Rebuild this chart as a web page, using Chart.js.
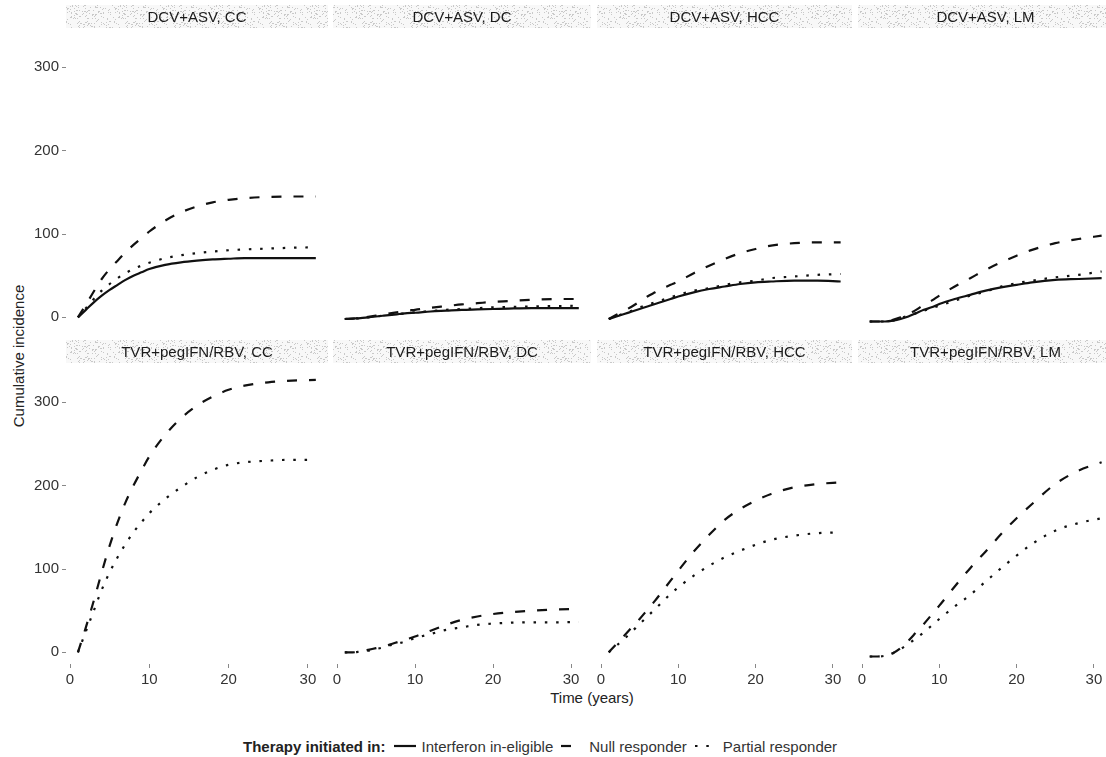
<!DOCTYPE html>
<html>
<head>
<meta charset="utf-8">
<title>Cumulative incidence</title>
<script src="https://cdn.jsdelivr.net/npm/chart.js@4.4.1/dist/chart.umd.min.js"></script>
<style>
  body { margin: 0; background: #fff; font-family: "Liberation Sans", Arial, sans-serif; color: #222; }
  #page { position: relative; width: 1106px; height: 757px; overflow: hidden; }
  #page canvas { position: absolute; }
  .lbl { position: absolute; font-size: 15px; white-space: nowrap; }
  #ytitle { left: 18px; top: 356px; transform: translate(-50%, -50%) rotate(-90deg); }
  #xtitle { left: 592px; top: 697px; transform: translate(-50%, -50%); }
  #legend { left: 243px; top: 737px; height: 18px; display: flex; align-items: center; color: #333; }
  #legend b { color: #222; }
  #legend svg { margin: 0 6px 0 8px; }
</style>
</head>
<body>
<div id="page">
  <div class="lbl" id="ytitle">Cumulative incidence</div>
  <div class="lbl" id="xtitle">Time (years)</div>
  <div class="lbl" id="legend"></div>
</div>
<script>
// facets
const treatments = ['DCV+ASV', 'TVR+pegIFN/RBV'];
const outcomes = ['CC', 'DC', 'HCC', 'LM'];
const seriesNames = ['Interferon in-eligible', 'Null responder', 'Partial responder'];
const xTicks = [0, 10, 20, 30];
const yTicks = [0, 100, 200, 300];

// time points (years)
const years = [1, 2, 3, 4, 5, 6, 7, 8, 9, 10, 12, 14, 16, 18, 20, 22, 25, 28, 31];

// DCV+ASV
const dcvCC_inelig  = [0, 9, 18, 26, 33, 39, 45, 50, 54, 58, 63, 66, 68, 69.5, 70.3, 71, 71, 71, 71];
const dcvCC_null    = [0, 15, 31, 46, 58, 68, 78, 87, 95, 103, 116, 126, 133, 138, 141, 143, 144.5, 145, 145];
const dcvCC_partial = [0, 11, 22, 32, 40, 47, 53, 58, 62, 65.5, 71, 74.5, 77, 79, 80.5, 81.5, 82.5, 83.5, 84];

const dcvDC_inelig  = [-2, -1.5, -1, 0, 1, 2, 3, 4, 5, 5.5, 7, 8, 9, 9.5, 10, 10.5, 11, 11, 11];
const dcvDC_null    = [-2, -1.5, -1, 0.5, 2, 3.5, 5, 6.5, 8, 9, 11.5, 13.5, 15.5, 17, 18.5, 19.5, 21, 22, 22];
const dcvDC_partial = [-2, -1.5, -1, 0, 1, 2, 3, 4, 5, 6, 7.5, 9, 10, 11, 12, 12.5, 13, 13.5, 14];

const dcvHCC_inelig  = [-2, 1, 4, 7, 10, 13, 16, 19, 22, 25, 30, 34, 37, 40, 42, 43, 44, 44, 43];
const dcvHCC_null    = [-2, 3, 8, 13, 19, 25, 30, 35, 39, 43, 53, 62, 70, 77, 82, 86, 89, 90, 90];
const dcvHCC_partial = [-2, 1, 5, 8, 12, 15, 18, 21, 24, 27, 32, 35, 39, 42, 44, 47, 49, 51, 52];

const dcvLM_inelig  = [-5, -5, -5, -4, -2, 1, 5, 9, 12, 16, 22, 27, 32, 36, 39, 42, 45, 46, 47];
const dcvLM_null    = [-5, -5, -5, -3, 0, 4, 9, 15, 20, 26, 37, 47, 57, 66, 74, 81, 89, 94, 98];
const dcvLM_partial = [-5, -5, -5, -4, -1, 2, 5, 8, 11, 14, 20, 26, 31, 37, 41, 44, 48, 51, 55];

// TVR+pegIFN/RBV (no interferon in-eligible arm)
const tvrCC_null    = [0, 30, 62, 96, 128, 156, 180, 200, 218, 235, 261, 281, 296, 307, 315, 320, 324, 326, 327];
const tvrCC_partial = [0, 25, 50, 75, 96, 114, 130, 144, 156, 167, 184, 198, 210, 219, 225, 228, 230, 231, 231];

const tvrDC_null    = [0, 0, 1, 3, 5, 7, 10, 13, 16, 19, 26, 33, 39, 43, 46, 48, 50, 51.5, 52];
const tvrDC_partial = [0, 0, 1, 2, 4, 6, 9, 11, 14, 17, 22, 27, 30, 33, 34.5, 35.5, 36, 36, 36.5];

const tvrHCC_null    = [0, 10, 20, 30, 40, 51, 62, 74, 86, 98, 121, 141, 159, 172, 182, 190, 198, 202, 204];
const tvrHCC_partial = [0, 8, 16, 25, 34, 43, 52, 61, 70, 78, 92, 104, 114, 122, 129, 135, 140, 143, 144];

const tvrLM_null    = [-5, -5, -4, -1, 5, 14, 24, 34, 45, 56, 79, 101, 121, 142, 161, 178, 202, 218, 228];
const tvrLM_partial = [-5, -5, -4, -1, 4, 10, 17, 24, 32, 40, 55, 69, 85, 101, 116, 130, 146, 155, 161];

const grid = [
  [[dcvCC_inelig, dcvCC_null, dcvCC_partial], [dcvDC_inelig, dcvDC_null, dcvDC_partial],
   [dcvHCC_inelig, dcvHCC_null, dcvHCC_partial], [dcvLM_inelig, dcvLM_null, dcvLM_partial]],
  [[null, tvrCC_null, tvrCC_partial], [null, tvrDC_null, tvrDC_partial],
   [null, tvrHCC_null, tvrHCC_partial], [null, tvrLM_null, tvrLM_partial]]
];

// line look
const dashes = [[], [10, 12], [2.5, 8.8]];
const lineColor = '#111';
const lineWidth = 2.2;

// layout (pixels)
const colLeft = [66, 333, 597, 858];
const colWidth = [262, 258, 255, 255];
const colZero = [70, 337, 601, 862];
const colPerYear = [7.93, 7.8, 7.73, 7.73];
const rowTop = [5, 340];
const stripH = 23;
const panelH = 300;
const yAxisW = 66;
const xAxisH = 30;
const yMin = -14, yMax = 346;

Chart.defaults.font.family = '"Liberation Sans", Arial, sans-serif';
Chart.defaults.font.size = 15;
Chart.defaults.color = '#333';

// speckled grey strip like the scanned original
function makeSpeckle() {
  const c = document.createElement('canvas');
  c.width = 48; c.height = stripH;
  const g = c.getContext('2d');
  g.fillStyle = '#f8f8f8';
  g.fillRect(0, 0, c.width, c.height);
  g.fillStyle = '#c9c9c9';
  for (let y = 0; y < c.height; y++) {
    for (let x = 0; x < c.width; x++) {
      const h = Math.abs(Math.sin(x * 12.9898 + y * 78.233) * 43758.5453) % 1;
      if (h > 0.86) g.fillRect(x, y, 1, 1);
    }
  }
  return g.createPattern(c, 'repeat');
}

const stripPlugin = {
  id: 'strip',
  beforeDraw(chart, args, opts) {
    const {ctx, chartArea} = chart;
    const top = chartArea.top - stripH - 1;
    ctx.save();
    ctx.fillStyle = makeSpeckle();
    ctx.fillRect(chartArea.left, top, chartArea.right - chartArea.left, stripH);
    ctx.fillStyle = '#1a1a1a';
    ctx.font = '15px "Liberation Sans", Arial, sans-serif';
    ctx.textAlign = 'center';
    ctx.textBaseline = 'middle';
    ctx.fillText(opts.text, (chartArea.left + chartArea.right) / 2, top + stripH / 2 + 1);
    ctx.restore();
  }
};

const page = document.getElementById('page');

for (let r = 0; r < 2; r++) {
  for (let c = 0; c < 4; c++) {
    const showY = c === 0;
    const showX = r === 1;
    const canvas = document.createElement('canvas');
    const left = showY ? colLeft[c] - yAxisW : colLeft[c];
    const width = colWidth[c] + (showY ? yAxisW : 0);
    const height = stripH + 1 + panelH + (showX ? xAxisH : 0);
    canvas.width = width;
    canvas.height = height;
    canvas.style.left = left + 'px';
    canvas.style.top = rowTop[r] + 'px';
    page.appendChild(canvas);

    const xMin = (colLeft[c] - colZero[c]) / colPerYear[c];
    const xMax = (colLeft[c] + colWidth[c] - colZero[c]) / colPerYear[c];

    const datasets = [];
    grid[r][c].forEach((vals, k) => {
      if (!vals) return;
      datasets.push({
        label: seriesNames[k],
        data: years.map((x, i) => ({x: x, y: vals[i]})),
        borderColor: lineColor,
        borderWidth: lineWidth,
        borderDash: dashes[k],
        borderCapStyle: 'butt',
        fill: false,
        pointRadius: 0,
        cubicInterpolationMode: 'monotone'
      });
    });

    new Chart(canvas, {
      type: 'line',
      data: {datasets},
      options: {
        responsive: false,
        animation: false,
        events: [],
        layout: {padding: {top: stripH + 1, left: 0, right: 0, bottom: 0}},
        plugins: {
          legend: {display: false},
          tooltip: {enabled: false},
          strip: {text: treatments[r] + ', ' + outcomes[c]}
        },
        scales: {
          x: {
            type: 'linear',
            min: xMin,
            max: xMax,
            display: showX,
            afterBuildTicks: s => { s.ticks = xTicks.map(v => ({value: v})); },
            afterFit: s => {
              s.height = showX ? xAxisH : 0;
              s.paddingLeft = 0; s.paddingRight = 0;
            },
            grid: {drawOnChartArea: false, drawTicks: true, tickLength: 4, color: '#888'},
            border: {display: false},
            ticks: {padding: 3, color: '#333', maxRotation: 0}
          },
          y: {
            type: 'linear',
            min: yMin,
            max: yMax,
            display: showY,
            afterBuildTicks: s => { s.ticks = yTicks.map(v => ({value: v})); },
            afterFit: s => {
              s.width = showY ? yAxisW : 0;
              s.paddingTop = 0; s.paddingBottom = 0;
            },
            grid: {drawOnChartArea: false, drawTicks: true, tickLength: 4, color: '#888'},
            border: {display: false},
            ticks: {padding: 3, color: '#333'}
          }
        }
      },
      plugins: [stripPlugin]
    });
  }
}

// legend
const legend = document.getElementById('legend');
let html = '<b>Therapy initiated in:</b>';
seriesNames.forEach((name, k) => {
  const dash = dashes[k].length ? dashes[k].join(',') : 'none';
  html += '<svg width="22" height="10"><line x1="0" y1="5" x2="22" y2="5" stroke="' + lineColor +
    '" stroke-width="' + lineWidth + '" stroke-dasharray="' + dash + '"/></svg><span>' + name + '</span>';
});
legend.innerHTML = html;
</script>
</body>
</html>
